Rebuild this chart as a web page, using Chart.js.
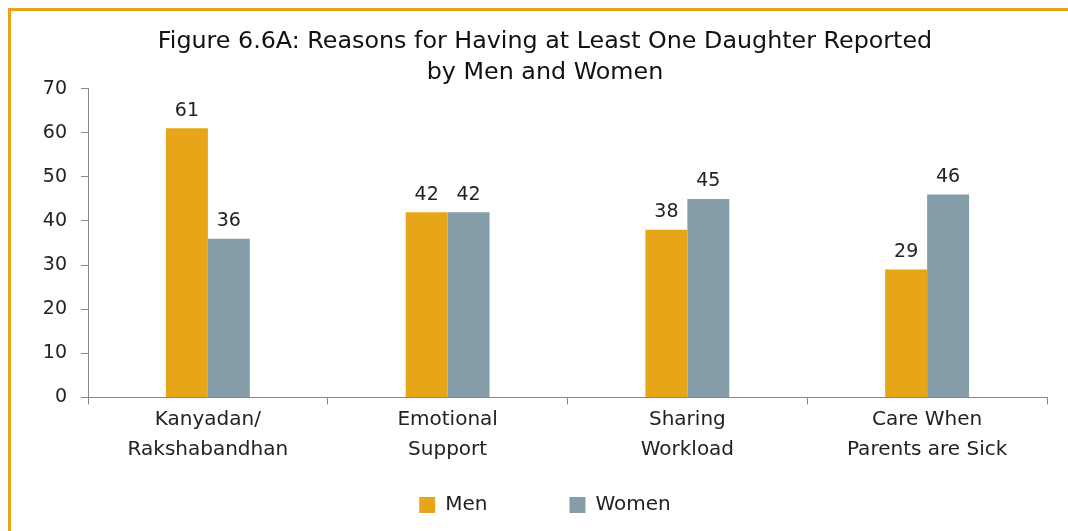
<!DOCTYPE html>
<html>
<head>
<meta charset="utf-8">
<script src="https://cdn.jsdelivr.net/npm/chart.js@4"></script>
<style>
  html, body { margin: 0; padding: 0; background: #fff; }
  #wrap { position: relative; width: 1068px; height: 531px; overflow: hidden; }
  #frame {
    position: absolute; left: 8px; top: 8px; width: 1100px; height: 600px;
    border-top: 3px solid #e5a51b; border-left: 3px solid #e5a51b;
  }
  #chart { position: absolute; left: 0; top: 0; }
</style>
</head>
<body>
<div id="wrap">
  <div id="frame"></div>
  <canvas id="chart" width="1068" height="531"></canvas>
</div>
<script>
// data
const categorias = [["Kanyadan/", "Rakshabandhan"], ["Emotional", "Support"], ["Sharing", "Workload"], ["Care When", "Parents are Sick"]];
const hombres = [61, 42, 38, 29];
const mujeres = [36, 42, 45, 46];
const ticksY = [0, 10, 20, 30, 40, 50, 60, 70];

const FUENTE = "'DejaVu Sans', sans-serif";

// numeros encima de cada barra
const etiquetasBarras = {
  id: "etiquetasBarras",
  afterDatasetsDraw(chart) {
    const ctx = chart.ctx;
    ctx.save();
    ctx.font = `19px ${FUENTE}`;
    ctx.fillStyle = "#222";
    ctx.textAlign = "center";
    ctx.textBaseline = "bottom";
    chart.data.datasets.forEach((ds, i) => {
      chart.getDatasetMeta(i).data.forEach((bar, j) => {
        ctx.fillText(ds.data[j], bar.x, bar.y - 8);
      });
    });
    ctx.restore();
  }
};

const ctx = document.getElementById("chart").getContext("2d");
new Chart(ctx, {
  type: "bar",
  data: {
    labels: categorias,
    datasets: [
      { label: "Men", data: hombres, backgroundColor: "#e6a617" },
      { label: "Women", data: mujeres, backgroundColor: "#869daa" }
    ]
  },
  options: {
    responsive: false,
    animation: false,
    layout: { padding: { left: 43, right: 21, top: 0, bottom: 6 } },
    datasets: { bar: { categoryPercentage: 0.35, barPercentage: 1 } },
    scales: {
      x: {
        grid: { display: true, drawOnChartArea: false, drawTicks: true, tickLength: 7, color: "#888" },
        border: { color: "#888" },
        // mirror evita el recorte de las etiquetas; padding negativo las baja debajo del eje
        ticks: { color: "#222", font: { family: FUENTE, size: 20, lineHeight: 1.5 }, padding: -37.5, mirror: true, maxRotation: 0 },
        afterFit(scale) { scale.height = 15.5; }
      },
      y: {
        min: 0,
        max: 70,
        afterBuildTicks(scale) { scale.ticks = ticksY.map(v => ({ value: v })); },
        grid: { display: true, drawOnChartArea: false, drawTicks: true, tickLength: 7, color: "#888" },
        border: { color: "#888" },
        ticks: { color: "#222", font: { family: FUENTE, size: 19 }, padding: 14 },
        afterFit(scale) { scale.width = 45; }
      }
    },
    plugins: {
      title: {
        display: true,
        text: ["Figure 6.6A: Reasons for Having at Least One Daughter Reported", "by Men and Women"],
        color: "#111",
        font: { family: FUENTE, size: 23.8, weight: "normal", lineHeight: 1.3 },
        padding: { top: 26.5, bottom: 0.2 }
      },
      legend: {
        position: "bottom",
        labels: {
          color: "#222",
          font: { family: FUENTE, size: 20 },
          boxWidth: 16,
          boxHeight: 16,
          padding: 82
        }
      },
      tooltip: { enabled: false }
    }
  },
  plugins: [etiquetasBarras]
});
</script>
</body>
</html>
